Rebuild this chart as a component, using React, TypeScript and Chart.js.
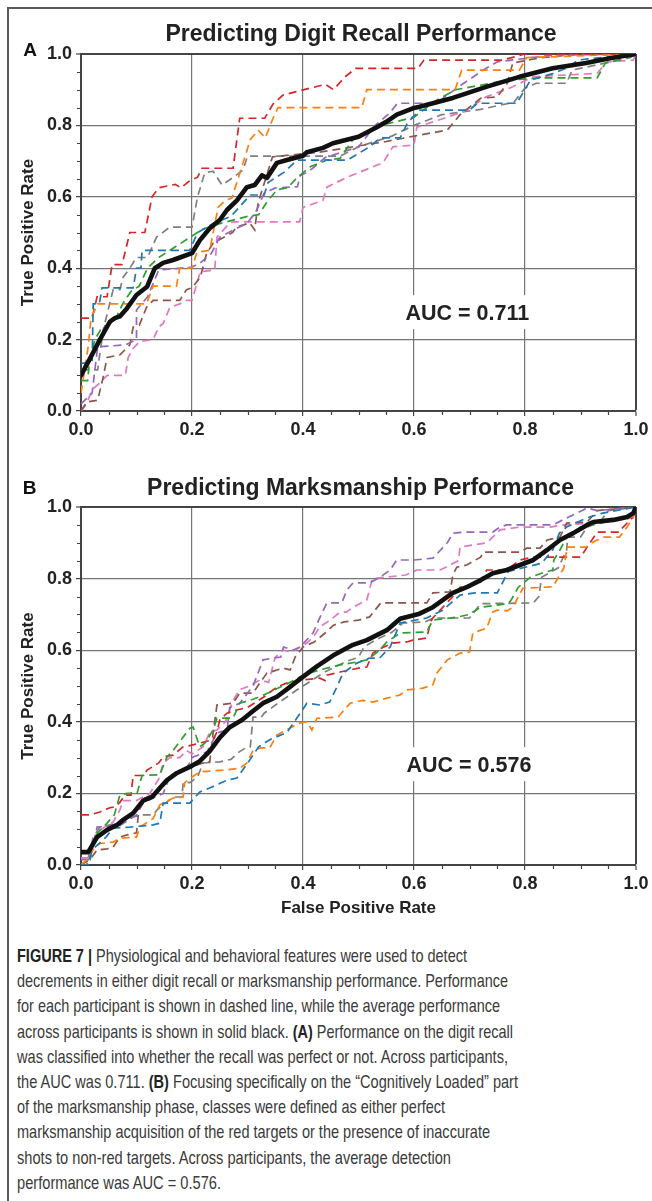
import React, { useEffect, useLayoutEffect, useRef } from "react";
import { Chart, registerables } from "chart.js";

Chart.register(...registerables);

const FONT = "'Liberation Sans', Arial, Helvetica, sans-serif";

const PARTICIPANT_COLORS = ["#1f77b4", "#ff7f0e", "#2ca02c", "#d62728", "#9467bd", "#8c564b", "#e377c2", "#7f7f7f"];

// ---------- Panel A: Digit recall ----------
const A_AVERAGE = [[0,0.1],[0.015,0.143],[0.034,0.2],[0.052,0.25],[0.061,0.26],[0.07,0.265],[0.083,0.288],[0.1,0.325],[0.119,0.348],[0.133,0.4],[0.148,0.415],[0.166,0.423],[0.182,0.432],[0.2,0.442],[0.214,0.478],[0.232,0.512],[0.25,0.535],[0.263,0.563],[0.281,0.59],[0.299,0.627],[0.313,0.633],[0.326,0.66],[0.335,0.653],[0.353,0.695],[0.371,0.703],[0.4,0.715],[0.407,0.725],[0.436,0.737],[0.454,0.75],[0.5,0.768],[0.533,0.795],[0.55,0.81],[0.569,0.83],[0.598,0.848],[0.61,0.852],[0.67,0.877],[0.73,0.908],[0.79,0.936],[0.85,0.96],[0.91,0.975],[0.953,0.988],[1,1]];
const A_BLUE = [[0,0.134],[0.02,0.134],[0.022,0.3],[0.033,0.3],[0.038,0.345],[0.094,0.345],[0.1,0.4],[0.108,0.4],[0.11,0.45],[0.196,0.45],[0.21,0.5],[0.24,0.527],[0.27,0.545],[0.305,0.605],[0.33,0.605],[0.337,0.64],[0.367,0.67],[0.389,0.703],[0.48,0.703],[0.52,0.74],[0.539,0.765],[0.575,0.765],[0.588,0.806],[0.61,0.843],[0.7,0.843],[0.714,0.862],[0.785,0.862],[0.81,0.927],[0.85,0.945],[0.88,0.964],[0.895,0.983],[1,1]];
const A_ORANGE = [[0,0.05],[0.013,0.18],[0.018,0.26],[0.03,0.3],[0.118,0.3],[0.13,0.35],[0.172,0.35],[0.178,0.4],[0.2,0.4],[0.209,0.445],[0.232,0.45],[0.24,0.515],[0.247,0.57],[0.26,0.59],[0.272,0.597],[0.29,0.685],[0.305,0.76],[0.319,0.787],[0.332,0.765],[0.346,0.82],[0.355,0.85],[0.506,0.85],[0.515,0.9],[0.674,0.9],[0.686,0.955],[0.79,0.955],[0.803,0.99],[1,1]];
const A_GREEN = [[0,0.085],[0.012,0.085],[0.015,0.135],[0.025,0.2],[0.038,0.235],[0.06,0.25],[0.075,0.3],[0.09,0.335],[0.105,0.35],[0.12,0.4],[0.14,0.43],[0.17,0.46],[0.2,0.49],[0.22,0.51],[0.25,0.525],[0.3,0.545],[0.32,0.55],[0.337,0.59],[0.354,0.62],[0.372,0.625],[0.389,0.653],[0.413,0.684],[0.443,0.703],[0.467,0.708],[0.49,0.76],[0.54,0.8],[0.6,0.823],[0.64,0.87],[0.675,0.9],[0.77,0.927],[0.83,0.933],[0.93,0.933],[0.945,0.975],[0.99,0.99],[1,1]];
const A_RED = [[0,0.26],[0.02,0.26],[0.029,0.32],[0.047,0.32],[0.056,0.41],[0.074,0.41],[0.088,0.5],[0.115,0.5],[0.128,0.6],[0.14,0.625],[0.17,0.635],[0.18,0.625],[0.196,0.645],[0.21,0.655],[0.218,0.68],[0.274,0.68],[0.286,0.82],[0.331,0.82],[0.346,0.86],[0.364,0.885],[0.44,0.915],[0.455,0.9],[0.475,0.935],[0.495,0.96],[0.607,0.96],[0.618,0.983],[0.76,0.983],[0.8,1],[1,1]];
const A_PURPLE = [[0,0.02],[0.02,0.05],[0.03,0.18],[0.08,0.185],[0.1,0.2],[0.1,0.283],[0.12,0.32],[0.14,0.395],[0.2,0.403],[0.215,0.415],[0.235,0.442],[0.25,0.487],[0.3,0.527],[0.315,0.558],[0.33,0.61],[0.35,0.625],[0.39,0.628],[0.395,0.66],[0.41,0.67],[0.44,0.71],[0.5,0.74],[0.53,0.8],[0.556,0.834],[0.57,0.862],[0.64,0.862],[0.68,0.908],[0.73,0.96],[0.75,0.978],[0.85,0.997],[1,1]];
const A_BROWN = [[0,0],[0.01,0.025],[0.03,0.03],[0.04,0.095],[0.047,0.15],[0.07,0.157],[0.088,0.185],[0.094,0.235],[0.105,0.24],[0.118,0.29],[0.13,0.31],[0.178,0.31],[0.19,0.34],[0.2,0.345],[0.215,0.375],[0.226,0.44],[0.238,0.47],[0.273,0.5],[0.28,0.515],[0.304,0.527],[0.313,0.507],[0.319,0.582],[0.328,0.627],[0.345,0.712],[0.43,0.725],[0.55,0.755],[0.6,0.77],[0.66,0.787],[0.683,0.83],[0.72,0.876],[0.75,0.88],[0.768,0.918],[0.778,0.975],[0.827,0.989],[0.9,1],[1,1]];
const A_PINK = [[0,0],[0.01,0.02],[0.02,0.06],[0.035,0.08],[0.047,0.1],[0.08,0.1],[0.085,0.15],[0.094,0.175],[0.106,0.195],[0.13,0.2],[0.14,0.235],[0.148,0.245],[0.16,0.29],[0.178,0.3],[0.19,0.31],[0.2,0.31],[0.215,0.39],[0.241,0.395],[0.245,0.487],[0.268,0.527],[0.275,0.53],[0.394,0.53],[0.4,0.57],[0.436,0.59],[0.443,0.627],[0.48,0.655],[0.526,0.684],[0.544,0.695],[0.562,0.74],[0.6,0.745],[0.605,0.795],[0.634,0.81],[0.66,0.823],[0.695,0.843],[0.73,0.88],[0.778,0.908],[0.814,0.936],[0.93,0.946],[0.948,0.978],[0.995,0.983],[1,1]];
const A_GRAY = [[0,0.115],[0.03,0.115],[0.04,0.227],[0.058,0.34],[0.07,0.34],[0.076,0.375],[0.088,0.4],[0.1,0.43],[0.12,0.43],[0.136,0.487],[0.16,0.515],[0.2,0.515],[0.21,0.6],[0.223,0.667],[0.238,0.672],[0.254,0.633],[0.275,0.655],[0.292,0.675],[0.3,0.714],[0.467,0.714],[0.5,0.74],[0.56,0.77],[0.6,0.8],[0.65,0.83],[0.72,0.845],[0.78,0.865],[0.8,0.905],[0.82,0.918],[0.875,0.918],[0.885,0.955],[0.97,0.983],[1,1]];

// ---------- Panel B: Marksmanship ----------
const B_AVERAGE = [[0,0.036],[0.013,0.036],[0.029,0.078],[0.047,0.098],[0.065,0.112],[0.076,0.126],[0.094,0.145],[0.112,0.18],[0.128,0.19],[0.142,0.215],[0.155,0.237],[0.173,0.257],[0.196,0.274],[0.214,0.29],[0.232,0.318],[0.25,0.356],[0.268,0.385],[0.29,0.405],[0.31,0.43],[0.328,0.452],[0.353,0.47],[0.376,0.497],[0.395,0.52],[0.425,0.555],[0.454,0.585],[0.49,0.615],[0.515,0.628],[0.551,0.656],[0.575,0.688],[0.61,0.702],[0.634,0.72],[0.67,0.76],[0.695,0.776],[0.713,0.79],[0.742,0.815],[0.767,0.824],[0.791,0.838],[0.815,0.852],[0.84,0.88],[0.863,0.908],[0.887,0.927],[0.912,0.95],[0.923,0.958],[0.959,0.964],[0.984,0.972],[0.995,0.983],[1,1]];
const B_BLUE = [[0,0],[0.012,0],[0.02,0.042],[0.045,0.078],[0.058,0.103],[0.088,0.106],[0.13,0.112],[0.142,0.117],[0.148,0.173],[0.196,0.173],[0.214,0.204],[0.232,0.215],[0.263,0.237],[0.281,0.243],[0.304,0.293],[0.32,0.33],[0.34,0.35],[0.371,0.37],[0.395,0.424],[0.407,0.452],[0.43,0.447],[0.448,0.455],[0.461,0.497],[0.472,0.536],[0.497,0.564],[0.52,0.578],[0.538,0.578],[0.557,0.609],[0.575,0.676],[0.623,0.69],[0.652,0.712],[0.683,0.754],[0.71,0.76],[0.75,0.76],[0.77,0.82],[0.83,0.843],[0.85,0.88],[0.862,0.927],[0.875,0.944],[0.912,0.97],[0.94,0.983],[1,1]];
const B_ORANGE = [[0,0],[0.01,0.014],[0.025,0.05],[0.034,0.06],[0.058,0.064],[0.07,0.075],[0.1,0.078],[0.106,0.106],[0.13,0.13],[0.142,0.168],[0.166,0.187],[0.184,0.19],[0.187,0.23],[0.2,0.246],[0.214,0.26],[0.256,0.265],[0.286,0.27],[0.299,0.285],[0.31,0.32],[0.323,0.327],[0.34,0.327],[0.353,0.363],[0.376,0.382],[0.395,0.397],[0.407,0.4],[0.416,0.377],[0.425,0.41],[0.463,0.413],[0.485,0.452],[0.508,0.46],[0.526,0.455],[0.551,0.466],[0.575,0.475],[0.587,0.489],[0.616,0.494],[0.634,0.503],[0.641,0.536],[0.66,0.573],[0.683,0.592],[0.7,0.595],[0.706,0.648],[0.731,0.662],[0.742,0.707],[0.75,0.712],[0.768,0.71],[0.778,0.72],[0.796,0.773],[0.85,0.777],[0.87,0.83],[0.876,0.888],[0.91,0.888],[0.923,0.902],[0.94,0.916],[0.97,0.916],[0.984,0.944],[0.995,0.972],[1,1]];
const B_GREEN = [[0,0],[0.015,0],[0.02,0.05],[0.03,0.09],[0.047,0.117],[0.06,0.14],[0.07,0.195],[0.083,0.2],[0.101,0.2],[0.11,0.25],[0.142,0.252],[0.155,0.302],[0.166,0.32],[0.196,0.382],[0.202,0.385],[0.214,0.33],[0.223,0.34],[0.238,0.377],[0.245,0.41],[0.274,0.41],[0.286,0.452],[0.304,0.46],[0.322,0.47],[0.35,0.49],[0.37,0.505],[0.4,0.53],[0.43,0.545],[0.467,0.559],[0.497,0.567],[0.515,0.573],[0.53,0.59],[0.538,0.6],[0.551,0.623],[0.575,0.648],[0.623,0.651],[0.634,0.684],[0.68,0.693],[0.7,0.7],[0.72,0.72],[0.77,0.73],[0.775,0.74],[0.788,0.776],[0.81,0.804],[0.83,0.815],[0.85,0.824],[0.852,0.852],[0.863,0.88],[0.875,0.916],[0.9,0.944],[0.922,0.95],[0.95,0.96],[0.99,0.975],[1,1]];
const B_RED = [[0,0.14],[0.016,0.14],[0.034,0.148],[0.052,0.16],[0.061,0.162],[0.07,0.175],[0.079,0.195],[0.09,0.195],[0.094,0.25],[0.112,0.25],[0.119,0.265],[0.14,0.285],[0.148,0.302],[0.166,0.307],[0.184,0.33],[0.2,0.335],[0.238,0.35],[0.245,0.372],[0.25,0.405],[0.263,0.424],[0.28,0.433],[0.3,0.44],[0.33,0.47],[0.353,0.497],[0.37,0.508],[0.4,0.517],[0.43,0.522],[0.44,0.515],[0.443,0.53],[0.467,0.539],[0.5,0.55],[0.515,0.553],[0.526,0.592],[0.54,0.605],[0.562,0.62],[0.587,0.623],[0.598,0.628],[0.623,0.634],[0.63,0.68],[0.634,0.69],[0.67,0.75],[0.683,0.776],[0.72,0.79],[0.731,0.824],[0.767,0.824],[0.791,0.852],[0.815,0.86],[0.9,0.86],[0.912,0.888],[0.93,0.93],[0.97,0.93],[0.977,0.944],[0.995,0.972],[1,1]];
const B_PURPLE = [[0,0.015],[0.016,0.015],[0.029,0.106],[0.07,0.11],[0.1,0.14],[0.112,0.173],[0.13,0.187],[0.148,0.2],[0.16,0.246],[0.178,0.265],[0.19,0.27],[0.202,0.302],[0.227,0.316],[0.245,0.369],[0.263,0.377],[0.268,0.44],[0.286,0.452],[0.31,0.5],[0.328,0.573],[0.346,0.578],[0.36,0.581],[0.365,0.609],[0.382,0.6],[0.395,0.609],[0.418,0.648],[0.431,0.693],[0.443,0.732],[0.47,0.732],[0.479,0.768],[0.49,0.788],[0.52,0.788],[0.539,0.804],[0.557,0.824],[0.569,0.852],[0.6,0.852],[0.634,0.857],[0.66,0.9],[0.67,0.927],[0.695,0.93],[0.742,0.93],[0.755,0.944],[0.767,0.95],[0.85,0.95],[0.876,0.97],[0.912,0.997],[0.93,0.99],[1,1]];
const B_BROWN = [[0,0],[0.016,0.015],[0.029,0.042],[0.047,0.045],[0.058,0.05],[0.07,0.078],[0.083,0.084],[0.1,0.09],[0.106,0.18],[0.119,0.19],[0.137,0.2],[0.148,0.22],[0.16,0.25],[0.19,0.27],[0.22,0.285],[0.232,0.288],[0.238,0.369],[0.245,0.447],[0.274,0.452],[0.286,0.48],[0.31,0.48],[0.322,0.508],[0.335,0.536],[0.364,0.55],[0.377,0.545],[0.386,0.581],[0.4,0.609],[0.42,0.623],[0.44,0.648],[0.455,0.67],[0.474,0.679],[0.5,0.684],[0.52,0.693],[0.54,0.732],[0.623,0.732],[0.634,0.76],[0.665,0.763],[0.67,0.81],[0.677,0.832],[0.695,0.838],[0.72,0.86],[0.725,0.874],[0.79,0.874],[0.803,0.885],[0.827,0.885],[0.84,0.908],[0.863,0.916],[0.875,0.955],[0.912,0.958],[0.93,0.99],[1,1]];
const B_PINK = [[0,0.02],[0.016,0.02],[0.025,0.08],[0.034,0.098],[0.058,0.12],[0.07,0.154],[0.076,0.18],[0.1,0.18],[0.124,0.2],[0.14,0.24],[0.148,0.285],[0.16,0.3],[0.178,0.3],[0.19,0.32],[0.2,0.31],[0.22,0.33],[0.232,0.37],[0.245,0.377],[0.26,0.4],[0.274,0.46],[0.286,0.49],[0.304,0.5],[0.322,0.517],[0.338,0.51],[0.35,0.58],[0.364,0.6],[0.38,0.595],[0.395,0.609],[0.407,0.62],[0.42,0.64],[0.43,0.665],[0.449,0.684],[0.465,0.704],[0.479,0.707],[0.49,0.72],[0.515,0.74],[0.525,0.8],[0.585,0.81],[0.605,0.824],[0.647,0.824],[0.68,0.85],[0.683,0.888],[0.731,0.9],[0.755,0.936],[0.791,0.944],[0.845,0.944],[0.87,0.95],[0.948,0.958],[0.995,0.97],[1,1]];
const B_GRAY = [[0,0],[0.01,0],[0.022,0.078],[0.034,0.106],[0.06,0.115],[0.094,0.134],[0.11,0.14],[0.13,0.14],[0.137,0.154],[0.15,0.17],[0.166,0.19],[0.182,0.19],[0.184,0.23],[0.196,0.23],[0.21,0.246],[0.22,0.285],[0.25,0.288],[0.27,0.295],[0.285,0.316],[0.3,0.33],[0.305,0.33],[0.31,0.413],[0.325,0.413],[0.33,0.424],[0.355,0.452],[0.39,0.49],[0.41,0.51],[0.44,0.54],[0.48,0.57],[0.5,0.58],[0.51,0.609],[0.53,0.628],[0.56,0.65],[0.58,0.676],[0.62,0.679],[0.635,0.69],[0.7,0.69],[0.72,0.73],[0.815,0.732],[0.825,0.75],[0.83,0.804],[0.86,0.83],[0.875,0.88],[0.877,0.916],[0.9,0.916],[0.912,0.944],[0.935,0.958],[0.95,0.99],[1,1]];

const PANEL_A_TITLE = "Predicting Digit Recall Performance";
const PANEL_B_TITLE = "Predicting Marksmanship Performance";
const AUC_A = "AUC = 0.711";
const AUC_B = "AUC = 0.576";

const CAPTION_LINES: [string, boolean][][] = [
  [["FIGURE 7 |", true], [" Physiological and behavioral features were used to detect", false]],
  [["decrements in either digit recall or marksmanship performance. Performance", false]],
  [["for each participant is shown in dashed line, while the average performance", false]],
  [["across participants is shown in solid black. ", false], ["(A)", true], [" Performance on the digit recall", false]],
  [["was classified into whether the recall was perfect or not. Across participants,", false]],
  [["the AUC was 0.711. ", false], ["(B)", true], [" Focusing specifically on the \u201cCognitively Loaded\u201d part", false]],
  [["of the marksmanship phase, classes were defined as either perfect", false]],
  [["marksmanship acquisition of the red targets or the presence of inaccurate", false]],
  [["shots to non-red targets. Across participants, the average detection", false]],
  [["performance was AUC = 0.576.", false]],
];
const CAPTION_WIDTHS = [450, 491, 483, 496, 491, 501, 428, 473, 434, 204];

const isOne = (v: any) => typeof v === "number" && Math.abs(v - 1) < 1e-9;
const toXY = (s: number[][]) => s.map(([x, y]) => ({ x, y }));

type PanelProps = {
  left: number; top: number; width: number; height: number;
  padTop: number; padBottom: number; xAxisH: number;
  average: number[][]; participants: number[][][];
  title: string; titleDx: number; titleDy: number;
  letter: string; letterX: number; letterY: number;
  auc: string; aucX: number; aucY: number;
  showXTitle: boolean;
};

function RocPanel(p: PanelProps) {
  const ref = useRef<HTMLCanvasElement>(null);
  useEffect(() => {
    if (!ref.current) return;
    const tickFont = { family: FONT, size: 18, weight: "bold" as const };
    const titleFont = { family: FONT, size: 17, weight: "bold" as const };
    const annot = {
      id: "annot",
      afterDatasetsDraw(chart: any) {
        const { ctx, scales } = chart;
        ctx.save();
        ctx.font = `bold 21.5px ${FONT}`;
        const w = ctx.measureText(p.auc).width;
        const cx = scales.x.getPixelForValue(p.aucX);
        const cy = scales.y.getPixelForValue(p.aucY);
        ctx.fillStyle = "#ffffff";
        ctx.fillRect(cx - w / 2 - 7, cy - 18, w + 14, 34);
        ctx.fillStyle = "#222";
        ctx.textAlign = "center";
        ctx.textBaseline = "middle";
        ctx.fillText(p.auc, cx, cy + 1);
        ctx.restore();
      },
      afterDraw(chart: any) {
        const { ctx, chartArea: ca, scales } = chart;
        ctx.save();
        // minor ticks
        ctx.strokeStyle = "#444";
        ctx.lineWidth = 1.2;
        ctx.beginPath();
        for (let i = 1; i < 20; i++) {
          if (i % 4 === 0) continue;
          const v = i / 20;
          const px = Math.round(scales.x.getPixelForValue(v)) + 0.5;
          ctx.moveTo(px, ca.bottom + 1);
          ctx.lineTo(px, ca.bottom + 4);
          const py = Math.round(scales.y.getPixelForValue(v)) + 0.5;
          ctx.moveTo(ca.left - 1, py);
          ctx.lineTo(ca.left - 4, py);
        }
        ctx.stroke();
        // panel title
        ctx.fillStyle = "#222";
        ctx.textAlign = "center";
        ctx.textBaseline = "middle";
        ctx.font = `bold 23px ${FONT}`;
        ctx.fillText(p.title, (ca.left + ca.right) / 2 + p.titleDx, ca.top - p.titleDy);
        // panel letter
        ctx.fillStyle = "#111";
        ctx.font = `bold 19px ${FONT}`;
        ctx.fillText(p.letter, p.letterX, p.letterY);
        ctx.restore();
      },
    };
    const datasets: any[] = [
      {
        label: "Average",
        data: toXY(p.average),
        borderColor: "#111",
        borderWidth: 4.6,
        borderJoinStyle: "round",
        borderCapStyle: "round",
        order: 0,
      },
      ...p.participants.map((s, i) => ({
        label: `Participant ${i + 1}`,
        data: toXY(s),
        borderColor: PARTICIPANT_COLORS[i],
        borderWidth: 1.7,
        borderDash: [8, 5],
        order: 1 + i,
      })),
    ];
    const gridColor = (c: any) => (isOne(c.tick && c.tick.value) ? "#444" : "#757575");
    const gridWidth = (c: any) => (isOne(c.tick && c.tick.value) ? 2 : 1.2);
    const chart = new Chart(ref.current, {
      type: "line",
      data: { datasets },
      plugins: [annot],
      options: {
        responsive: false,
        animation: false,
        devicePixelRatio: 1,
        layout: { padding: { left: 0, top: p.padTop, right: 16, bottom: p.padBottom } },
        elements: { point: { radius: 0, hoverRadius: 0 }, line: { tension: 0, fill: false } },
        plugins: { legend: { display: false }, tooltip: { enabled: false }, title: { display: false } },
        events: [],
        scales: {
          x: {
            type: "linear",
            min: 0,
            max: 1,
            afterFit: (s: any) => { s.height = p.xAxisH; },
            ticks: {
              stepSize: 0.2,
              autoSkip: false,
              maxRotation: 0,
              padding: 3,
              color: "#222",
              font: tickFont,
              callback: (v: any) => Number(v).toFixed(1),
            },
            grid: { color: gridColor, lineWidth: gridWidth, tickLength: 5, tickColor: "#444", tickWidth: 1.2 },
            border: { display: true, color: "#444", width: 2 },
            title: {
              display: p.showXTitle,
              text: "False Positive Rate",
              color: "#222",
              font: titleFont,
              padding: { top: 0, bottom: 0 },
            },
          },
          y: {
            type: "linear",
            min: 0,
            max: 1,
            afterFit: (s: any) => { s.width = 71; },
            ticks: {
              stepSize: 0.2,
              autoSkip: false,
              padding: 4,
              color: "#222",
              font: tickFont,
              callback: (v: any) => Number(v).toFixed(1),
            },
            grid: { color: gridColor, lineWidth: gridWidth, tickLength: 5, tickColor: "#444", tickWidth: 1.2 },
            border: { display: true, color: "#444", width: 2 },
            title: {
              display: true,
              text: "True Positive Rate",
              color: "#222",
              font: titleFont,
              padding: { top: 8, bottom: 0 },
            },
          },
        },
      } as any,
    });
    return () => chart.destroy();
  }, []);
  return (
    <canvas
      ref={ref}
      width={p.width}
      height={p.height}
      style={{ position: "absolute", left: p.left, top: p.top, width: p.width, height: p.height }}
    />
  );
}

function Caption() {
  const refs = useRef<(HTMLSpanElement | null)[]>([]);
  useLayoutEffect(() => {
    refs.current.forEach((el, i) => {
      if (!el) return;
      el.style.transform = "none";
      const w = el.getBoundingClientRect().width;
      if (w > 0) el.style.transform = `scaleX(${CAPTION_WIDTHS[i] / w})`;
    });
  }, []);
  return (
    <div
      style={{
        position: "absolute",
        left: 17,
        top: 943,
        fontFamily: "'Liberation Sans Narrow', 'Liberation Sans', Arial, sans-serif",
        fontSize: 19,
        lineHeight: "25.2px",
        color: "#3a3a3a",
        whiteSpace: "nowrap",
      }}
    >
      {CAPTION_LINES.map((line, i) => (
        <div key={i}>
          <span
            ref={(el) => { refs.current[i] = el; }}
            style={{ display: "inline-block", transformOrigin: "0 0" }}
          >
            {line.map(([t, b], j) =>
              b ? <b key={j} style={{ color: "#222" }}>{t}</b> : <React.Fragment key={j}>{t}</React.Fragment>
            )}
          </span>
        </div>
      ))}
    </div>
  );
}

export default function App() {
  return (
    <div style={{ position: "absolute", left: 0, top: 0, width: 652, height: 1201, overflow: "hidden", background: "#fff" }}>
      <div style={{ position: "absolute", left: 7, top: 7, width: 645, height: 2, background: "#5a5a5a" }} />
      <div style={{ position: "absolute", left: 7, top: 7, width: 2, height: 1194, background: "#5a5a5a" }} />
      <RocPanel
        left={10} top={10} width={642} height={440}
        padTop={44} padBottom={9} xAxisH={30}
        average={A_AVERAGE}
        participants={[A_BLUE, A_ORANGE, A_GREEN, A_RED, A_PURPLE, A_BROWN, A_PINK, A_GRAY]}
        title={PANEL_A_TITLE} titleDx={2.5} titleDy={19.5}
        letter="A" letterX={20} letterY={41}
        auc={AUC_A} aucX={0.696} aucY={0.274}
        showXTitle={false}
      />
      <RocPanel
        left={10} top={460} width={642} height={470}
        padTop={47} padBottom={11} xAxisH={54}
        average={B_AVERAGE}
        participants={[B_BLUE, B_ORANGE, B_GREEN, B_RED, B_PURPLE, B_BROWN, B_PINK, B_GRAY]}
        title={PANEL_B_TITLE} titleDx={2} titleDy={18.5}
        letter="B" letterX={19.5} letterY={29}
        auc={AUC_B} aucX={0.699} aucY={0.279}
        showXTitle={true}
      />
      <Caption />
    </div>
  );
}
